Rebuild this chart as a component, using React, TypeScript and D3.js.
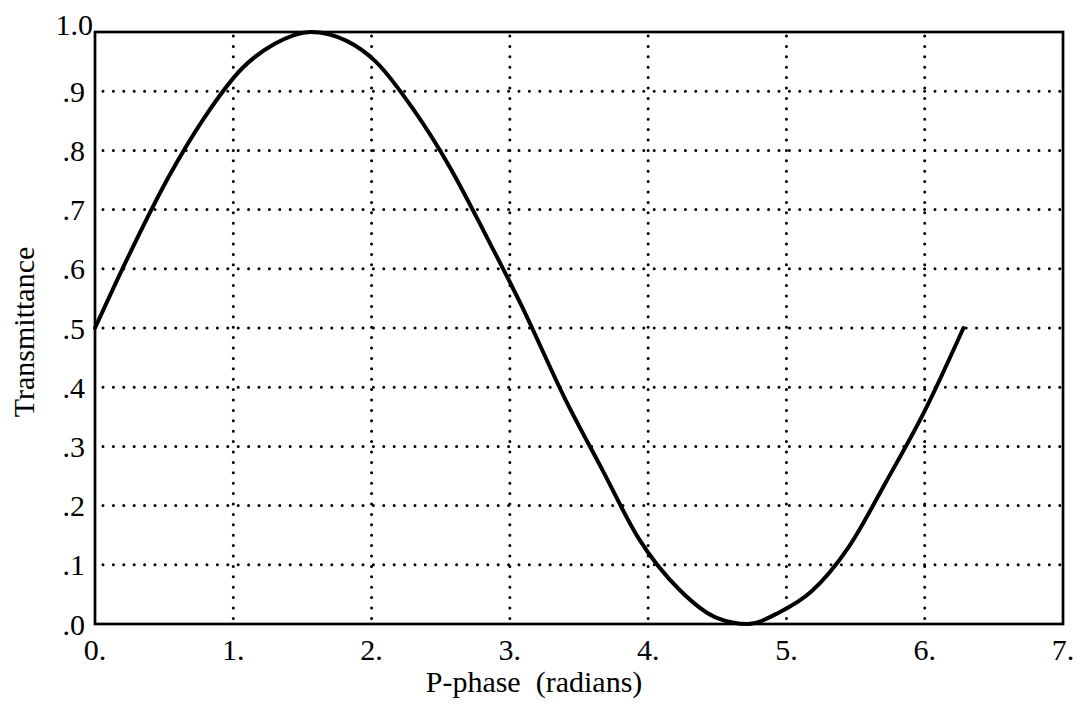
import React from "react";
import * as d3 from "d3";

const phase = [0, 0.26, 0.52, 0.79, 1.07, 1.3, 1.56, 1.82, 2.03, 2.3, 2.57, 2.83, 3.08, 3.4, 3.67, 3.93, 4.23, 4.5, 4.72, 4.95, 5.18, 5.45, 5.72, 6.0, 6.28];
const transmittance = [0.5, 0.63, 0.75, 0.855, 0.94, 0.98, 1.0, 0.985, 0.95, 0.87, 0.77, 0.655, 0.54, 0.38, 0.26, 0.145, 0.057, 0.01, 0.0, 0.02, 0.055, 0.13, 0.24, 0.36, 0.5];
const xTicks = [0, 1, 2, 3, 4, 5, 6, 7];
const xTickLabels = ["0.", "1.", "2.", "3.", "4.", "5.", "6.", "7."];
const yTicks = [0, 0.1, 0.2, 0.3, 0.4, 0.5, 0.6, 0.7, 0.8, 0.9, 1.0];
const yTickLabels = [".0", ".1", ".2", ".3", ".4", ".5", ".6", ".7", ".8", ".9", "1.0"];

const W = 1081;
const H = 719;
const left = 95, right = 1063, top = 32, bottom = 624;
const font = "'Liberation Serif', 'Times New Roman', serif";

export default function App() {
  const x = d3.scaleLinear().domain([0, 7]).range([left, right]);
  const y = d3.scaleLinear().domain([0, 1]).range([bottom, top]);
  const line = d3
    .line<number>()
    .x((_, i) => x(phase[i]))
    .y((d) => y(d))
    .curve(d3.curveMonotoneX);
  const pathD = line(transmittance) || "";

  return (
    <svg
      width={W}
      height={H}
      style={{ position: "absolute", left: 0, top: 0, background: "#fff" }}
    >
      <rect x={0} y={0} width={W} height={H} fill="#fff" />
      {xTicks.slice(1, -1).map((t) => (
        <line
          key={"gx" + t}
          x1={x(t)}
          x2={x(t)}
          y1={y(1) + 4}
          y2={y(0)}
          stroke="#000"
          strokeWidth={3}
          strokeLinecap="round"
          strokeDasharray="0 10.4"
        />
      ))}
      {yTicks.slice(1, -1).map((t) => (
        <line
          key={"gy" + t}
          x1={x(0) + 8}
          x2={x(7)}
          y1={y(t)}
          y2={y(t)}
          stroke="#000"
          strokeWidth={3}
          strokeLinecap="round"
          strokeDasharray="0 10.4"
        />
      ))}
      <rect
        x={left}
        y={top}
        width={right - left}
        height={bottom - top}
        fill="none"
        stroke="#000"
        strokeWidth={2.7}
      />
      <path d={pathD} fill="none" stroke="#000" strokeWidth={4} strokeLinejoin="round" strokeLinecap="round" />
      {xTicks.map((t, i) => (
        <text
          key={"xl" + t}
          x={x(t)}
          y={660}
          textAnchor="middle"
          fontFamily={font}
          fontSize={30}
          fill="#000"
        >
          {xTickLabels[i]}
        </text>
      ))}
      {yTicks.map((t, i) => (
        <text
          key={"yl" + t}
          x={t === 1 ? 93 : 85}
          y={y(t) + (t === 1 ? -8 : 0)}
          dy="0.35em"
          textAnchor="end"
          fontFamily={font}
          fontSize={30}
          fill="#000"
        >
          {yTickLabels[i]}
        </text>
      ))}
      <text
        x={534}
        y={692}
        textAnchor="middle"
        fontFamily={font}
        fontSize={30}
        fill="#000"
        style={{ whiteSpace: "pre" }}
      >
        {"P-phase  (radians)"}
      </text>
      <text
        transform={`translate(34, 332) rotate(-90)`}
        textAnchor="middle"
        fontFamily={font}
        fontSize={30}
        fill="#000"
      >
        Transmittance
      </text>
    </svg>
  );
}
